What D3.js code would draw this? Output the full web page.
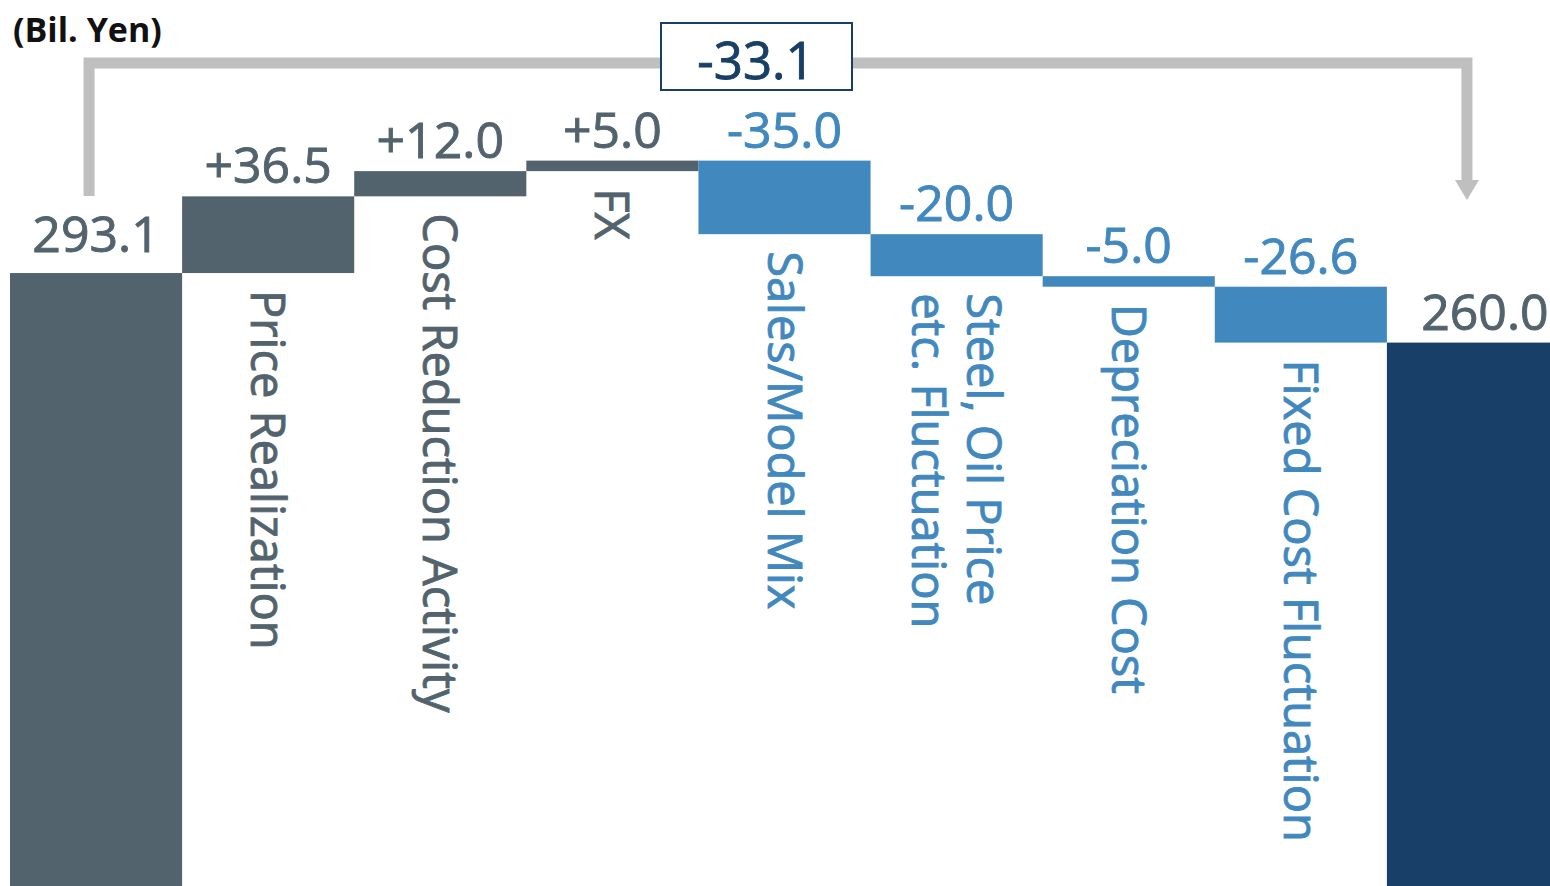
<!DOCTYPE html>
<html>
<head>
<meta charset="utf-8">
<script src="https://cdn.jsdelivr.net/npm/d3@7"></script>
<style>
  html, body { margin: 0; padding: 0; background: #ffffff; overflow: hidden; }
  svg { display: block; font-family: "Open Sans", "Noto Sans", sans-serif; }
</style>
</head>
<body>
<script>
// Operating profit bridge (billion yen)
const startValue = 293.1;
const endValue = 260.0;
const totalChange = -33.1;
const stepNames = [
  ["Price Realization"],
  ["Cost Reduction Activity"],
  ["FX"],
  ["Sales/Model Mix"],
  ["Steel, Oil Price", "etc. Fluctuation"],
  ["Depreciation Cost"],
  ["Fixed Cost Fluctuation"]
];
const stepValues = [36.5, 12.0, 5.0, -35.0, -20.0, -5.0, -26.6];
const unitLabel = "(Bil. Yen)";

const W = 1550, H = 886;
const colGray = "#52636d";
const colBlue = "#4188bf";
const colNavy = "#173f67";
const colBracket = "#bfbfbf";
const heavy = 0.9; // extra stroke to give the text a medium weight

const fmtStep = v => (v > 0 ? "+" : "-") + Math.abs(v).toFixed(1);

// Build the waterfall segments
const bars = [];
bars.push({ key: "start", lo: 0, hi: startValue, text: startValue.toFixed(1), color: colGray, textColor: colGray, lines: [] });
let run = startValue;
stepValues.forEach((v, i) => {
  const a = run, b = run + v;
  bars.push({
    key: "s" + i,
    lo: Math.min(a, b), hi: Math.max(a, b),
    text: fmtStep(v),
    color: v >= 0 ? colGray : colBlue,
    textColor: v >= 0 ? colGray : colBlue,
    lines: stepNames[i]
  });
  run = b;
});
bars.push({ key: "end", lo: 0, hi: endValue, text: endValue.toFixed(1), color: colNavy, textColor: colGray, lines: [] });

const x = d3.scaleBand().domain(bars.map(d => d.key)).range([10, 1559]).padding(0);
const y = d3.scaleLinear().domain([0, 400]).range([889, 48.4]);

const svg = d3.select("body").append("svg").attr("width", W).attr("height", H);

// Bars
svg.append("g").selectAll("rect").data(bars).join("rect")
  .attr("x", d => x(d.key))
  .attr("y", d => y(d.hi))
  .attr("width", x.bandwidth())
  .attr("height", d => y(d.lo) - y(d.hi))
  .attr("fill", d => d.color);

// Value labels above each bar
svg.append("g").selectAll("text").data(bars).join("text")
  .attr("x", d => x(d.key) + x.bandwidth() / 2 + (d.key === "end" ? 12 : 0))
  .attr("y", d => y(d.hi) - (d.key === "start" ? 21 : 13))
  .attr("text-anchor", "middle")
  .attr("font-size", 50)
  .attr("fill", d => d.textColor)
  .attr("stroke", d => d.textColor)
  .attr("stroke-width", heavy)
  .text(d => d.text);

// Vertical category labels below each step bar
const fs = 47, capH = fs * 0.72, lineH = 55;
const cat = svg.append("g").selectAll("g").data(bars.filter(d => d.lines.length)).join("g")
  .attr("transform", d => `translate(${x(d.key) + x.bandwidth() / 2},${y(d.lo) + 17}) rotate(90)`);
cat.each(function (d) {
  const n = d.lines.length;
  d3.select(this).selectAll("text").data(d.lines).join("text")
    .attr("x", 0)
    .attr("y", (t, i) => capH / 2 + (i - (n - 1) / 2) * lineH)
    .attr("font-size", fs)
    .attr("fill", d.textColor)
    .attr("stroke", d.textColor)
    .attr("stroke-width", heavy)
    .text(t => t);
});

// Bracket showing the total change
const xL = x("start") + x.bandwidth() / 2 - 7;
const xR = x("end") + x.bandwidth() / 2 - 6;
const topY = 63, tipY = 200;
svg.append("path")
  .attr("d", `M${xL},${y(startValue) - 77} V${topY} H${xR} V${tipY - 18}`)
  .attr("fill", "none")
  .attr("stroke", colBracket)
  .attr("stroke-width", 11)
  .attr("stroke-linejoin", "miter");
svg.append("path")
  .attr("d", `M${xR - 12},${tipY - 20} L${xR + 12},${tipY - 20} L${xR},${tipY} Z`)
  .attr("fill", colBracket);

const boxCx = 756;
svg.append("rect")
  .attr("x", boxCx - 95).attr("y", 23)
  .attr("width", 191).attr("height", 67)
  .attr("fill", "#ffffff")
  .attr("stroke", colNavy)
  .attr("stroke-width", 2);
svg.append("text")
  .attr("x", boxCx).attr("y", 79)
  .attr("text-anchor", "middle")
  .attr("font-size", 51)
  .attr("fill", colNavy)
  .attr("stroke", colNavy)
  .attr("stroke-width", heavy)
  .text(fmtStep(totalChange));

// Unit
svg.append("text")
  .attr("x", 13).attr("y", 42)
  .attr("font-size", 34)
  .attr("font-weight", "bold")
  .attr("fill", "#111111")
  .text(unitLabel);
</script>
</body>
</html>
